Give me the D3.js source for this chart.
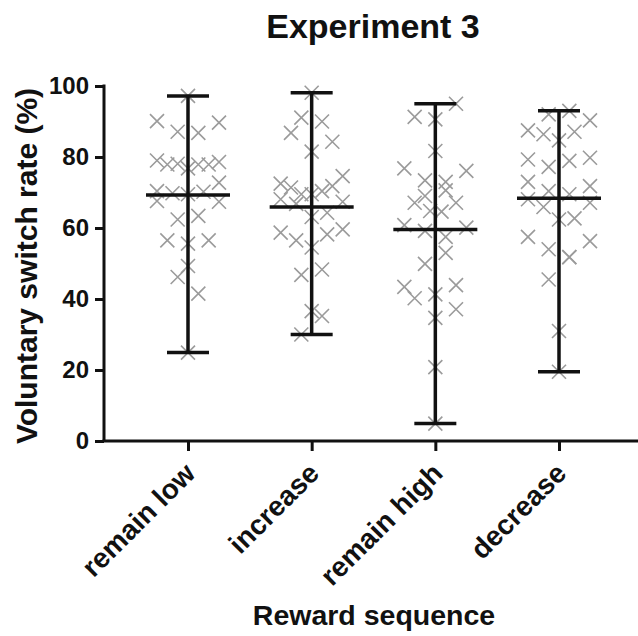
<!DOCTYPE html>
<html>
<head>
<meta charset="utf-8">
<script src="https://cdn.jsdelivr.net/npm/d3@7"></script>
<style>
  html, body { margin: 0; padding: 0; background: #fff; }
  svg { display: block; }
  text { font-family: "Liberation Sans", Arial, Helvetica, sans-serif; font-weight: bold; fill: #111; }
</style>
</head>
<body>
<svg id="chart" width="638" height="636"></svg>
<script>
// ---- data ----
const title = "Experiment 3";
const yTitle = "Voluntary switch rate (%)";
const xTitle = "Reward sequence";
const categories = ["remain low", "increase", "remain high", "decrease"];
const yTicks = [0, 20, 40, 60, 80, 100];

const remainLow = [97.2, 90.1, 89.7, 87.1, 86.8, 79.0, 77.9, 78.1, 76.8, 77.9, 77.9, 78.6, 72.8, 70.4,
  69.8, 69.5, 70.2, 67.6, 67.4, 62.4, 63.4, 56.5, 55.6, 56.5, 49.3, 46.2, 41.5, 24.9];
const remainLowSlot = [0, -3, 3, -1, 1, -3, -2, -1, 0, 1, 2, 3, 3, -3,
  -1.5, 0, 1.5, -3, 3, -1, 1, -2, 0, 2, 0, -1, 1, 0];

const increase = [98.1, 91.1, 90.0, 86.8, 84.3, 81.5, 74.6, 72.5, 71.4, 71.8, 69.5, 69.5, 70.4, 68.1,
  66.8, 67.4, 63.1, 64.3, 58.7, 56.5, 58.2, 59.6, 54.5, 46.8, 48.3, 36.6, 35.2, 30.0];
const increaseSlot = [0, -1, 1, -2, 2, 0, 3, -3, -2, 2, -1, 0, 1, -3,
  -1.5, 3, 0, 1.5, -3, -1.5, 1.5, 3, 0, -1, 1, 0, 1, -1];

const remainHigh = [95.0, 91.3, 90.6, 81.7, 76.8, 76.1, 73.4, 73.0, 69.0, 70.6, 67.1, 67.1, 64.8, 64.6,
  60.8, 59.2, 60.1, 57.5, 53.0, 49.9, 43.4, 40.2, 41.3, 43.9, 34.7, 37.1, 20.8, 4.9];
const remainHighSlot = [2, -2, 0, 0, -3, 3, -1, 1, -1, 1, -2, 2, -0.5, 0.6,
  -3, -1, 3, 1, 1, -1, -3, -2, 0, 2, 0, 2, 0, 0];

const decrease = [92.0, 93.0, 90.3, 87.5, 86.4, 84.7, 87.1, 79.3, 77.2, 78.9, 79.8, 73.0, 70.4, 69.5,
  71.8, 68.1, 65.9, 67.1, 62.4, 62.7, 57.5, 56.3, 54.0, 51.8, 51.8, 45.5, 31.0, 19.5];
const decreaseSlot = [-1, 1, 3, -3, -1.5, 0, 1.5, -3, -1, 1, 3, -3, -1, 1,
  3, -3, -1.5, 3, 0, 1.5, -3, 3, -1, 1, 1, -1, 0, 0];

const seriesValues = [remainLow, increase, remainHigh, decrease];
const seriesSlots = [remainLowSlot, increaseSlot, remainHighSlot, decreaseSlot];

// ---- layout ----
const svg = d3.select("#chart");
const axisX = 104, axisBottom = 441, axisTop = 86, axisRight = 638;
const ink = "#111";

const x = d3.scalePoint().domain(categories).range([188, 559]);
const y = d3.scaleLinear().domain([0, 100]).range([axisBottom, axisTop]);
const jitter = d3.scaleLinear().domain([-3, 3]).range([-31, 31]);

// title
svg.append("text").attr("x", 373).attr("y", 38).attr("text-anchor", "middle")
  .style("font-size", "34px").text(title);

// y axis
const yAxis = svg.append("g").attr("transform", `translate(${axisX},0)`)
  .call(d3.axisLeft(y).tickValues(yTicks).tickSize(9).tickPadding(6).tickSizeOuter(0));
yAxis.select(".domain").attr("stroke", ink).attr("stroke-width", 3)
  .attr("d", `M0,${axisTop - 1.5}V${axisBottom}`);
yAxis.selectAll(".tick line").attr("stroke", ink).attr("stroke-width", 3);
yAxis.selectAll(".tick text").style("font-size", "24px").style("font-family", "Liberation Sans, Arial, sans-serif")
  .style("font-weight", "bold").attr("fill", ink);

// x axis
const xAxis = svg.append("g").attr("transform", `translate(0,${axisBottom})`)
  .call(d3.axisBottom(x).tickSize(10).tickSizeOuter(0).tickFormat(""));
xAxis.select(".domain").attr("stroke", ink).attr("stroke-width", 3)
  .attr("d", `M${axisX - 1.5},0H${axisRight}`);
xAxis.selectAll(".tick line").attr("stroke", ink).attr("stroke-width", 3);

// category labels
svg.append("g").selectAll("text").data(categories).join("text")
  .attr("transform", d => `translate(${x(d) + 9},${axisBottom + 34}) rotate(-45)`)
  .attr("text-anchor", "end")
  .style("font-size", "28px")
  .text(d => d);

// axis titles
svg.append("text").attr("transform", `translate(37,266) rotate(-90)`)
  .attr("text-anchor", "middle").style("font-size", "30px").text(yTitle);
svg.append("text").attr("x", 374).attr("y", 625).attr("text-anchor", "middle")
  .style("font-size", "28.5px").text(xTitle);

// points
const s = 7;
categories.forEach((cat, i) => {
  const vals = seriesValues[i];
  const slots = seriesSlots[i];
  const pts = vals.map((v, j) => ({ v, slot: slots[j] }));
  const g = svg.append("g");
  g.selectAll("path").data(pts).join("path")
    .attr("d", d => {
      const cx = x(cat) + jitter(d.slot), cy = y(d.v);
      return `M${cx - s},${cy - s}L${cx + s},${cy + s}M${cx - s},${cy + s}L${cx + s},${cy - s}`;
    })
    .attr("stroke", "#9b9b9b").attr("stroke-width", 1.6).attr("fill", "none");
});

// mean with range
categories.forEach((cat, i) => {
  const vals = seriesValues[i];
  const [mn, mx] = d3.extent(vals);
  const mean = d3.mean(vals);
  const cx = x(cat);
  const g = svg.append("g").attr("stroke", ink).attr("stroke-width", 3.5).attr("fill", "none");
  g.append("line").attr("x1", cx).attr("x2", cx).attr("y1", y(mx)).attr("y2", y(mn));
  g.append("line").attr("x1", cx - 21).attr("x2", cx + 21).attr("y1", y(mx)).attr("y2", y(mx));
  g.append("line").attr("x1", cx - 21).attr("x2", cx + 21).attr("y1", y(mn)).attr("y2", y(mn));
  g.append("line").attr("x1", cx - 42).attr("x2", cx + 42).attr("y1", y(mean)).attr("y2", y(mean));
});
</script>
</body>
</html>
